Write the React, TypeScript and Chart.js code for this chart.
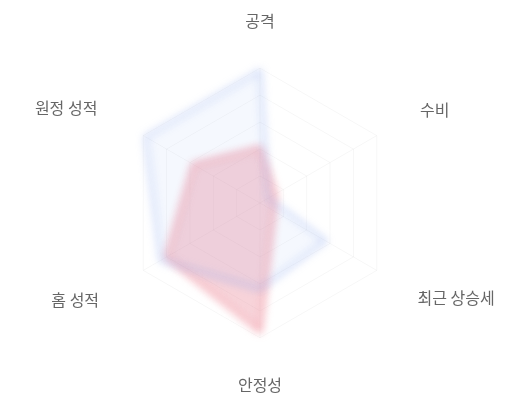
import React, { useEffect, useRef } from 'react';
import { Chart, registerables } from 'chart.js';

Chart.register(...registerables);

const labels = ['공격', '수비', '최근 상승세', '안정성', '홈 성적', '원정 성적'];
const teamA = [98, 7, 56, 64, 85, 98];
const teamB = [41, 13, 12, 95, 80, 57];

// per-label gap between the grid and its label (top, right-up, right-down, bottom, left-down, left-up)
const labelGaps = [38, 50, 47, 38, 51, 53];
const labelLineHeights = [1.2, 0.1, 0.5, 1.2, 0.5, 0.1];

// soften the data polygons like the original
const blurPlugin = {
  id: 'blurData',
  beforeDatasetsDraw(chart: Chart) {
    chart.ctx.save();
    chart.ctx.filter = 'blur(4px)';
  },
  afterDatasetsDraw(chart: Chart) {
    chart.ctx.restore();
  },
};

const App: React.FC = () => {
  const chartRef = useRef<HTMLCanvasElement>(null);
  const chartInstance = useRef<Chart | null>(null);

  useEffect(() => {
    if (!chartRef.current) return;
    if (chartInstance.current) chartInstance.current.destroy();

    chartInstance.current = new Chart(chartRef.current, {
      type: 'radar',
      data: {
        labels,
        datasets: [
          {
            label: 'A',
            data: teamA,
            borderColor: 'rgba(120, 150, 235, 0.45)',
            backgroundColor: 'rgba(120, 150, 235, 0.07)',
            borderWidth: 3,
            pointRadius: 0,
          },
          {
            label: 'B',
            data: teamB,
            borderColor: 'rgba(240, 120, 135, 0.7)',
            backgroundColor: 'rgba(230, 110, 130, 0.3)',
            borderWidth: 3,
            pointRadius: 0,
          },
        ],
      },
      options: {
        responsive: true,
        maintainAspectRatio: false,
        animation: false,
        layout: { padding: { left: 12, top: 11, bottom: 5 } },
        plugins: {
          legend: { display: false },
          tooltip: { enabled: false },
        },
        scales: {
          r: {
            min: 0,
            max: 100,
            ticks: { display: false, stepSize: 20 },
            grid: { color: 'rgba(0, 0, 0, 0.035)' },
            angleLines: { color: 'rgba(0, 0, 0, 0.035)' },
            pointLabels: {
              color: '#666',
              padding: (ctx: any) => labelGaps[ctx.index],
              font: (ctx: any) => ({
                family: "'Noto Sans CJK KR', 'Noto Sans', sans-serif",
                size: 16,
                lineHeight: labelLineHeights[ctx.index],
              }),
            },
          },
        },
      },
      plugins: [blurPlugin],
    });

    return () => {
      if (chartInstance.current) {
        chartInstance.current.destroy();
        chartInstance.current = null;
      }
    };
  }, []);

  return (
    <div style={{ position: 'absolute', left: 0, top: 0, width: 520, height: 400 }}>
      <canvas ref={chartRef}></canvas>
    </div>
  );
};

export default App;
